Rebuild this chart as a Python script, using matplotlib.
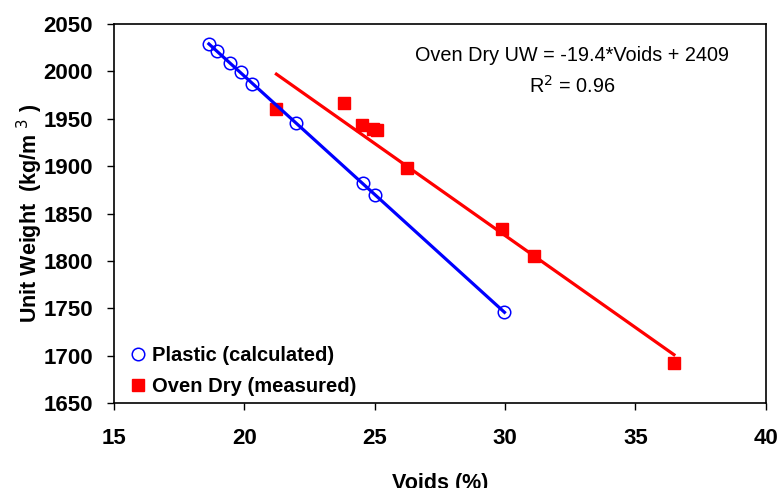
import numpy as np
import matplotlib
matplotlib.use("Agg")
import matplotlib.pyplot as plt

plt.rcParams['font.family'] = ['Liberation Sans', 'DejaVu Sans']

plastic_voids = [18.64, 18.97, 19.44, 19.87, 20.28, 21.97, 24.54, 25.00, 29.98]
plastic_uw = [2029, 2021, 2009, 1999, 1987, 1946, 1882, 1870, 1746]
oven_voids = [21.23, 23.81, 24.51, 24.94, 25.10, 26.24, 29.88, 31.13, 36.48]
oven_uw = [1960, 1967, 1943, 1939, 1938, 1898, 1834, 1805, 1693]
oven_slope, oven_intercept = -19.4, 2409
x_ticks = [15, 20, 25, 30, 35, 40]
y_ticks = [1650, 1700, 1750, 1800, 1850, 1900, 1950, 2000, 2050]

fig = plt.figure(figsize=(7.77, 4.88), dpi=100)
ax = fig.add_axes([114/777, 1-403.3/488, (765.7-114)/777, (403.3-24)/488])

# trendlines
ox = np.array([min(oven_voids), max(oven_voids)])
ax.plot(ox, oven_slope*ox + oven_intercept, color='#FF0000', lw=2.3, zorder=1)
ax.plot(oven_voids, oven_uw, 's', color='#FF0000', ms=9, mec='#FF0000',
        label='Oven Dry (measured)', zorder=2)
pc = np.polyfit(plastic_voids, plastic_uw, 1)
px = np.array([min(plastic_voids), max(plastic_voids)])
ax.plot(px, np.polyval(pc, px), color='#0000FF', lw=2.3, zorder=3)
ax.plot(plastic_voids, plastic_uw, 'o', mfc='none', mec='#0000FF', mew=1.1, ms=9,
        label='Plastic (calculated)', zorder=4)

ax.set_xlim(15, 40)
ax.set_ylim(1650, 2050)
ax.set_xticks(x_ticks)
ax.set_yticks(y_ticks)
ax.tick_params(direction='out', length=5, width=1, labelsize=16, pad=10)
ax.tick_params(axis='x', pad=13)
for lab in ax.get_xticklabels() + ax.get_yticklabels():
    lab.set_fontweight('bold')
for s in ax.spines.values():
    s.set_linewidth(1.2)

ax.set_xlabel('Voids (%)', fontsize=15.5, fontweight='bold', labelpad=17)
ax.set_ylabel('Unit Weight  (kg/m $^{3}$ )', fontsize=15.5, fontweight='bold', labelpad=-1)

h, l = ax.get_legend_handles_labels()
ax.legend([h[1], h[0]], [l[1], l[0]], loc='lower left', bbox_to_anchor=(0.0, -0.018),
          frameon=False, prop={'weight': 'bold', 'size': 14.5}, handlelength=1.0,
          handletextpad=0.2, labelspacing=0.6, borderaxespad=0.3)

ax.text(0.703, 0.9157, 'Oven Dry UW = -19.4*Voids + 2409', transform=ax.transAxes,
        ha='center', va='center', fontsize=14.3)
ax.text(0.703, 0.837, 'R$^2$ = 0.96', transform=ax.transAxes,
        ha='center', va='center', fontsize=14.3)

fig.savefig('out.png', dpi=100)
